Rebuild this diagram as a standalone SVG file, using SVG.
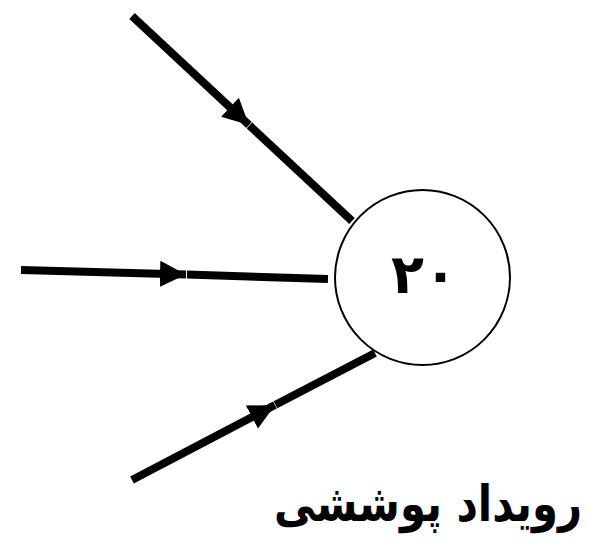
<svg xmlns="http://www.w3.org/2000/svg" width="590" height="548" viewBox="0 0 590 548">
<style>
.edge{stroke:#000;stroke-width:8;fill:none;stroke-linecap:butt}
.node{fill:#fff;stroke:#000;stroke-width:2}
.lbl{font-family:"DejaVu Sans","Noto Sans",sans-serif;font-weight:bold;fill:#000}
</style>
<defs>
<marker id="arr" markerUnits="userSpaceOnUse" markerWidth="26" markerHeight="26" viewBox="0 0 24 24" refX="24" refY="12" orient="auto">
<path d="M0,0 L24,12 L0,24 Z" fill="#000"/>
</marker>
</defs>
<g id="connectors">
<line class="edge" x1="132" y1="16" x2="249" y2="125" marker-end="url(#arr)"/>
<line class="edge" x1="249.5" y1="125.5" x2="352" y2="221"/>
<line class="edge" x1="21" y1="270" x2="186" y2="274.5" marker-end="url(#arr)"/>
<line class="edge" x1="187" y1="274.5" x2="328" y2="279"/>
<line class="edge" x1="132" y1="480" x2="275" y2="405" marker-end="url(#arr)"/>
<line class="edge" x1="275.5" y1="404.7" x2="375" y2="353"/>
</g>
<g id="node20">
<circle class="node" cx="422.5" cy="277.5" r="87.5"/>
<text class="lbl" x="424" y="293" font-size="54" text-anchor="middle">۲۰</text>
</g>
<g id="caption">
<text class="lbl" transform="translate(582,521) scale(0.95,1.15)" x="0" y="0" font-size="44" text-anchor="end">رویداد پوششی</text>
</g>
</svg>
